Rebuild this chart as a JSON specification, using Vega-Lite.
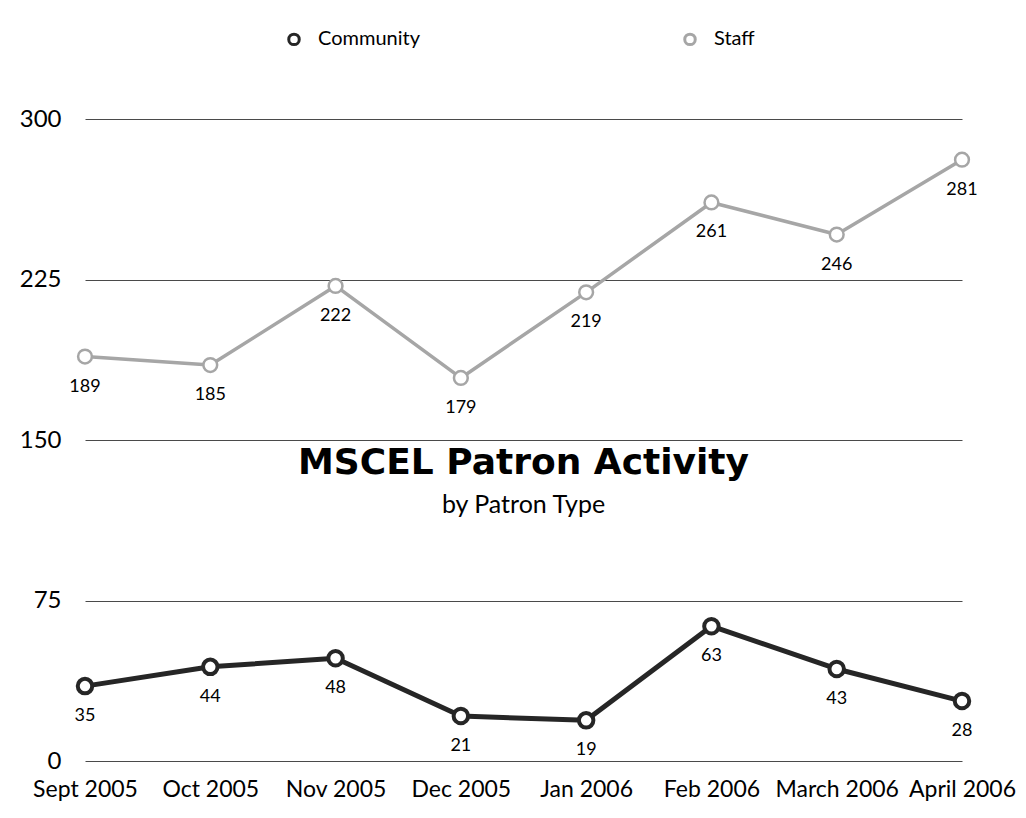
{
  "$schema": "https://vega.github.io/schema/vega-lite/v6.json",
  "width": 877,
  "height": 642,
  "autosize": {"type": "none"},
  "padding": {"left": 85, "top": 119, "right": 64, "bottom": 57},
  "background": "white",
  "config": {"view": {"stroke": null}},
  "title": {
    "text": "MSCEL Patron Activity",
    "subtitle": "by Patron Type",
    "anchor": "middle",
    "frame": "group",
    "font": "DejaVu Sans",
    "fontSize": 36,
    "fontWeight": "bold",
    "color": "#000000",
    "subtitleFont": "Lato",
    "subtitleFontSize": 25,
    "subtitleColor": "#000000",
    "subtitlePadding": 11,
    "dy": 494
  },
  "data": {
    "values": [
      {"month": "Sept 2005", "type": "Community", "value": 35},
      {"month": "Oct 2005", "type": "Community", "value": 44},
      {"month": "Nov 2005", "type": "Community", "value": 48},
      {"month": "Dec 2005", "type": "Community", "value": 21},
      {"month": "Jan 2006", "type": "Community", "value": 19},
      {"month": "Feb 2006", "type": "Community", "value": 63},
      {"month": "March 2006", "type": "Community", "value": 43},
      {"month": "April 2006", "type": "Community", "value": 28},
      {"month": "Sept 2005", "type": "Staff", "value": 189},
      {"month": "Oct 2005", "type": "Staff", "value": 185},
      {"month": "Nov 2005", "type": "Staff", "value": 222},
      {"month": "Dec 2005", "type": "Staff", "value": 179},
      {"month": "Jan 2006", "type": "Staff", "value": 219},
      {"month": "Feb 2006", "type": "Staff", "value": 261},
      {"month": "March 2006", "type": "Staff", "value": 246},
      {"month": "April 2006", "type": "Staff", "value": 281}
    ]
  },
  "encoding": {
    "x": {
      "field": "month",
      "type": "ordinal",
      "sort": null,
      "scale": {"type": "point", "padding": 0},
      "axis": {
        "title": null,
        "labelAngle": 0,
        "domain": false,
        "ticks": false,
        "grid": false,
        "labelFont": "Lato",
        "labelFontSize": 23,
        "labelColor": "#000000",
        "labelPadding": 17
      }
    },
    "y": {
      "field": "value",
      "type": "quantitative",
      "scale": {"domain": [0, 300], "nice": false},
      "axis": {
        "title": null,
        "values": [0, 75, 150, 225, 300],
        "domain": false,
        "ticks": false,
        "grid": true,
        "gridColor": "#4a4a4a",
        "gridWidth": 1,
        "gridOpacity": 1,
        "labelFont": "Lato",
        "labelFontSize": 24,
        "labelColor": "#000000",
        "labelPadding": 24
      }
    }
  },
  "layer": [
    {
      "mark": {"type": "line", "strokeCap": "round", "strokeJoin": "round"},
      "encoding": {
        "color": {
          "field": "type",
          "type": "nominal",
          "scale": {"domain": ["Community", "Staff"], "range": ["#262626", "#a6a6a6"]},
          "legend": {
            "title": null,
            "orient": "none",
            "direction": "horizontal",
            "legendX": 199,
            "legendY": -90,
            "columnPadding": 258,
            "symbolType": "circle",
            "symbolSize": 110,
            "symbolStrokeWidth": 3,
            "symbolFillColor": "white",
            "symbolOffset": 0,
            "labelFont": "Lato",
            "labelFontSize": 20,
            "labelColor": "#000000",
            "labelOffset": 14
          }
        },
        "strokeWidth": {
          "condition": {"test": "datum.type === 'Community'", "value": 5},
          "value": 3.5
        }
      }
    },
    {
      "mark": {"type": "point", "shape": "circle", "filled": false, "fill": "white", "fillOpacity": 1, "opacity": 1},
      "encoding": {
        "color": {"field": "type", "type": "nominal"},
        "size": {
          "condition": {"test": "datum.type === 'Community'", "value": 210},
          "value": 190
        },
        "strokeWidth": {
          "condition": {"test": "datum.type === 'Community'", "value": 4},
          "value": 2.5
        }
      }
    },
    {
      "mark": {"type": "text", "dy": 30, "font": "Lato", "fontSize": 18, "color": "#000000"},
      "encoding": {
        "text": {"field": "value", "type": "quantitative"}
      }
    }
  ]
}
